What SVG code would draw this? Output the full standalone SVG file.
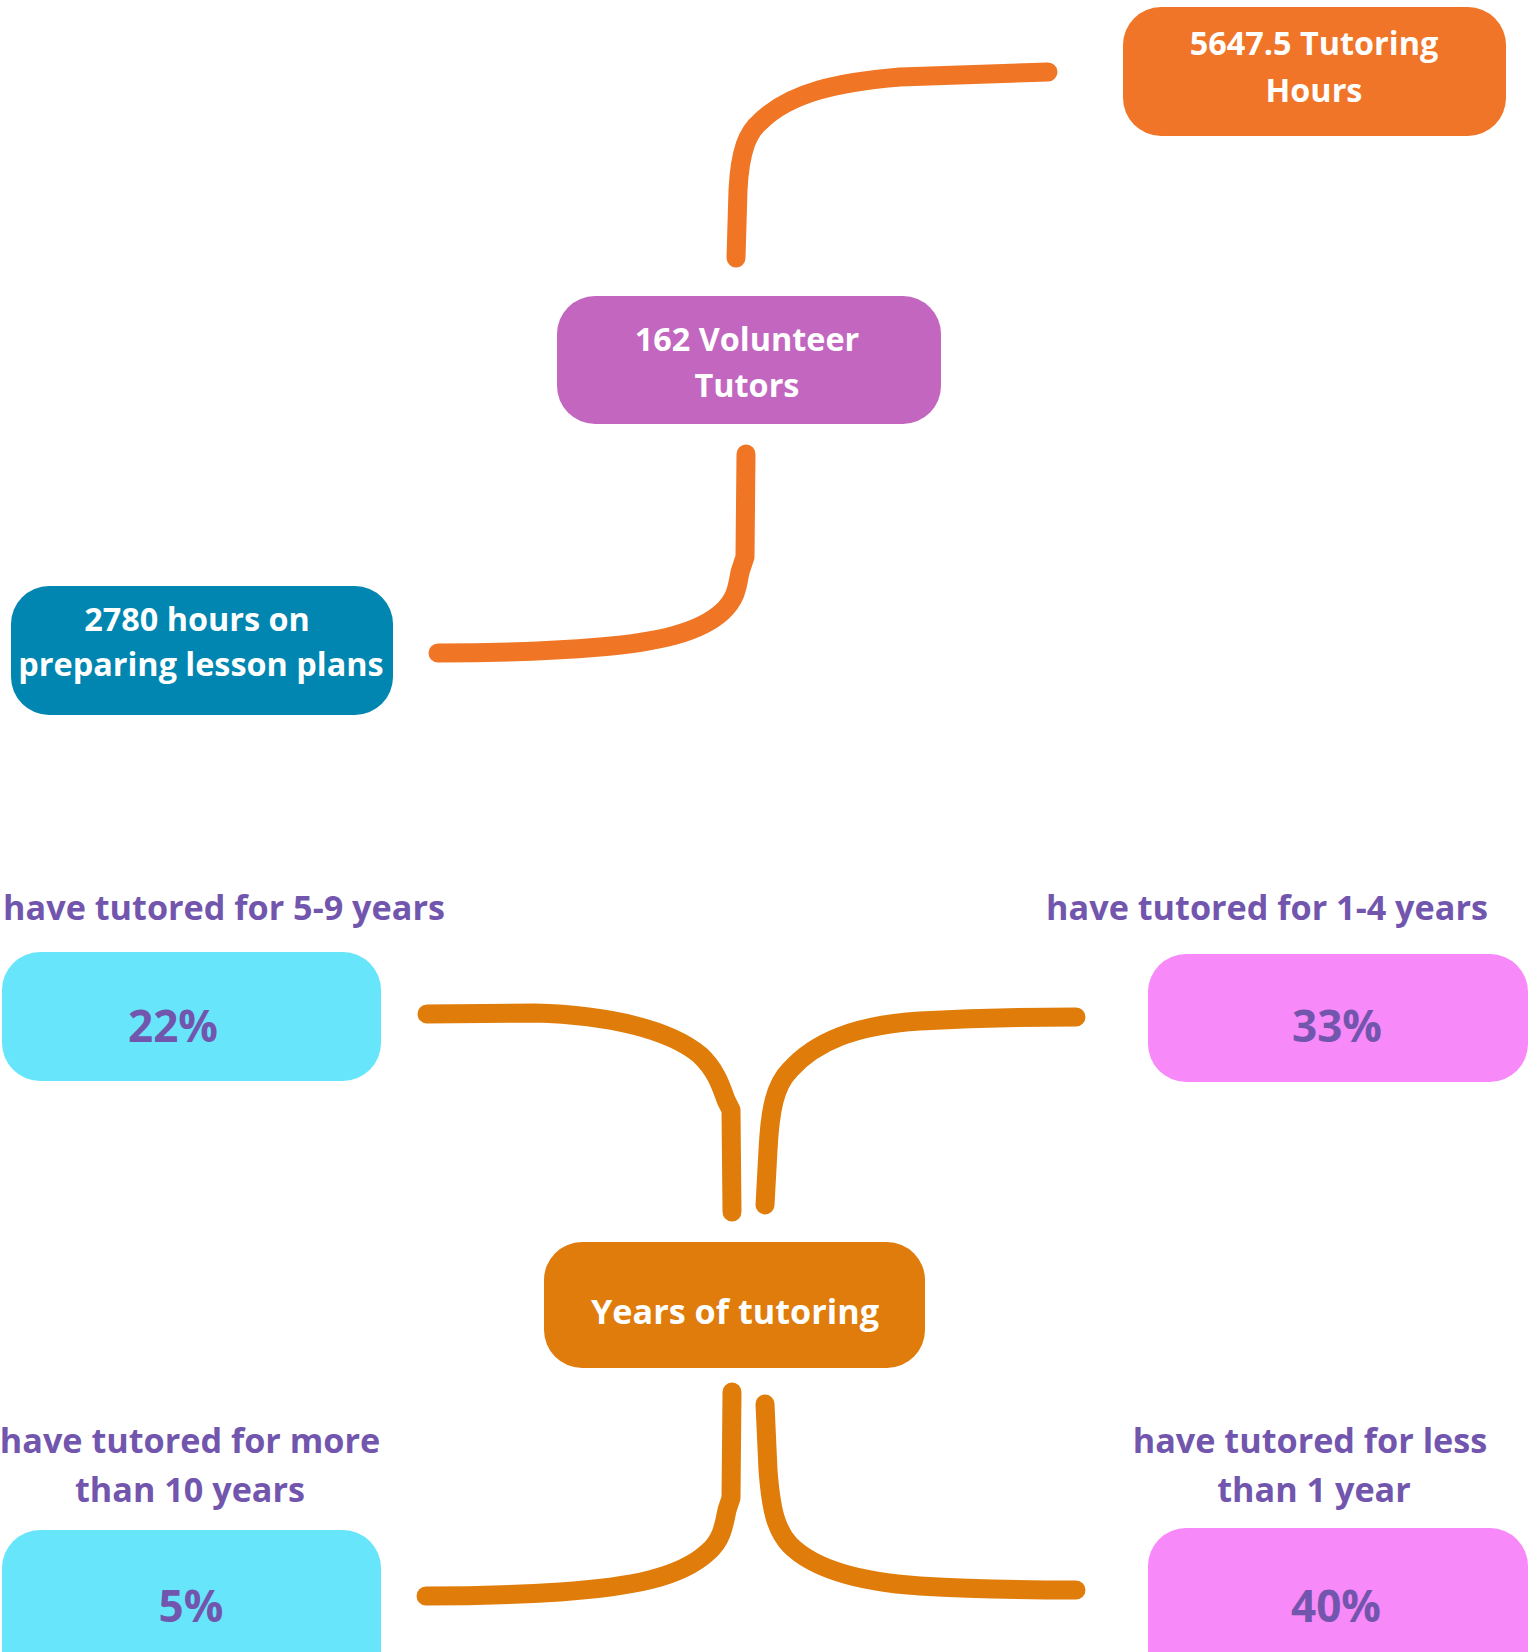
<svg xmlns="http://www.w3.org/2000/svg" width="1538" height="1652" viewBox="0 0 1538 1652">
<style>
.t{font-family:"Open Sans","Liberation Sans",sans-serif;font-weight:700;text-anchor:middle}
.w{fill:#ffffff;font-size:32.4px}
.lb{fill:#7256AE;font-size:34.2px}
.pc{fill:#7256AE;font-size:44px}
.c1{fill:none;stroke:#F07525;stroke-width:19;stroke-linecap:round;stroke-linejoin:round}
.c2{fill:none;stroke:#E07C0A;stroke-width:19;stroke-linecap:round;stroke-linejoin:round}
</style>
<rect width="1538" height="1652" fill="#ffffff"/>
<g id="connectors">
<path class="c1" d="M736,258 L738,190 C740,150 748,132 760,122 C790,92 840,82 900,77 L1048,72"/>
<path class="c1" d="M746,454 L745,557 L740,572 C737,590 735,600 722,612 C700,632 660,642 600,647 C540,652 480,653 438,653"/>
<path class="c2" d="M427,1014 L535,1013 C610,1015 670,1030 700,1055 C718,1072 722,1090 726,1100 L731,1110 L732,1212"/>
<path class="c2" d="M765,1205 L768,1150 C770,1110 775,1085 790,1070 C815,1042 855,1025 920,1021 C980,1018 1030,1017 1076,1017"/>
<path class="c2" d="M732,1392 L731,1498 L727,1510 C724,1525 722,1540 708,1552 C680,1578 630,1587 560,1592 C510,1595 460,1596 426,1596"/>
<path class="c2" d="M765,1404 L768,1470 C771,1510 776,1530 790,1545 C815,1570 860,1582 920,1586 C990,1590 1040,1590 1076,1590"/>
</g>
<g id="node-hours">
<rect x="1123" y="7" width="383" height="129" rx="38" fill="#F07528"/>
<text class="t w" x="1314" y="55">5647.5 Tutoring</text>
<text class="t w" x="1314" y="102">Hours</text>
</g>
<g id="node-tutors">
<rect x="557" y="296" width="384" height="128" rx="38" fill="#C266C0"/>
<text class="t w" x="747" y="351">162 Volunteer</text>
<text class="t w" x="747" y="397">Tutors</text>
</g>
<g id="node-lesson">
<rect x="11" y="586" width="382" height="129" rx="38" fill="#0086B0"/>
<text class="t w" x="197" y="631">2780 hours on</text>
<text class="t w" x="201" y="676">preparing lesson plans</text>
</g>
<g id="node-5-9">
<text class="t lb" x="224" y="920">have tutored for 5-9 years</text>
<rect x="2" y="952" width="379" height="129" rx="38" fill="#67E5FA"/>
<text class="t pc" x="173" y="1042">22%</text>
</g>
<g id="node-1-4">
<text class="t lb" x="1267" y="920">have tutored for 1-4 years</text>
<rect x="1148" y="954" width="380" height="128" rx="38" fill="#F889F9"/>
<text class="t pc" x="1337" y="1042">33%</text>
</g>
<g id="node-years">
<rect x="544" y="1242" width="381" height="126" rx="38" fill="#DF7C0B"/>
<text class="t" x="735" y="1324" fill="#ffffff" font-size="34.2">Years of tutoring</text>
</g>
<g id="node-10">
<text class="t lb" x="190" y="1453">have tutored for more</text>
<text class="t lb" x="190" y="1502">than 10 years</text>
<rect x="2" y="1530" width="379" height="160" rx="38" fill="#67E5FA"/>
<text class="t pc" x="191" y="1622">5%</text>
</g>
<g id="node-less1">
<text class="t lb" x="1310" y="1453">have tutored for less</text>
<text class="t lb" x="1314" y="1502">than 1 year</text>
<rect x="1148" y="1528" width="380" height="160" rx="38" fill="#F889F9"/>
<text class="t pc" x="1336" y="1622">40%</text>
</g>
</svg>
